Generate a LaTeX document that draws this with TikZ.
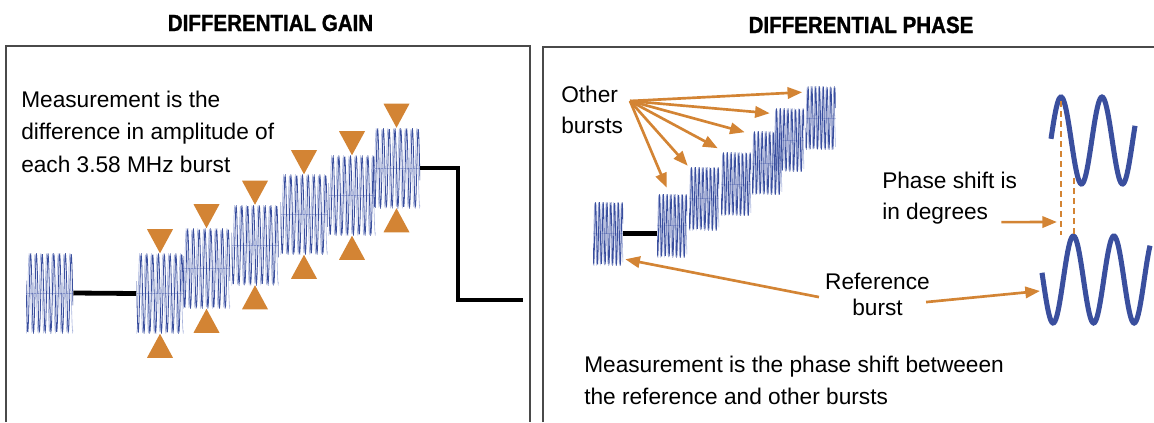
\documentclass[tikz,border=0pt]{standalone}
\usepackage{fontspec}
\setmainfont{Liberation Sans}
\newfontfamily\headfont{Liberation Sans Bold}[FakeStretch=0.88,FakeBold=1.2]
\usetikzlibrary{arrows.meta,calc}

\definecolor{burstblue}{HTML}{3A4F9E}
\definecolor{burstpale}{HTML}{A8B3DC}
\definecolor{markorange}{HTML}{D38434}
\definecolor{framegray}{HTML}{4A4A4A}

% half width, amplitude, period (all in px)
\newcommand{\burstwave}[3]{%
  \begin{scope}[shift={(path picture bounding box.center)}]
    \draw[burstpale,line width=0.45pt] plot[domain=-#1:#1,samples=150] (\x,{#2*sin((\x+0.25*#3)/#3*360)});
    \draw[burstpale,line width=0.4pt] (-#1,0) -- (#1,0);
    \draw[burstblue,line width=0.6pt] plot[domain=-#1:#1,samples=150] (\x,{#2*sin(\x/#3*360)});
  \end{scope}}

\tikzset{
  frame/.style={draw=framegray,line width=1.3pt},
  head/.style={font=\headfont\fontsize{17.5}{20}\selectfont,anchor=base,inner sep=0pt},
  note/.style={align=left,anchor=north west,inner sep=0pt},
  level/.style={line width=3.6pt,line cap=butt},
  ptr/.style={draw=markorange,line width=2pt,-{Triangle[length=11pt,width=8.5pt]}},
  gaintri/.style={fill=markorange},
  phasedash/.style={draw=markorange,line width=1.4pt,dash pattern=on 4.5pt off 3pt},
  sig/.style={draw=burstblue,line width=3.8pt},
  gburst/.style={minimum width=35.25pt,minimum height=60pt,inner sep=0pt,
    path picture={\burstwave{23.5}{39}{5.8}}},
  pburst/.style={minimum width=22.5pt,minimum height=47.25pt,inner sep=0pt,
    path picture={\burstwave{15}{30.5}{3.8}}}
}

\begin{document}
\begin{tikzpicture}[x=0.75pt,y=-0.75pt]
  \useasboundingbox (0,0) rectangle (1154,422);

  % panels
  \draw[frame] (6,422) -- (6,46) -- (530,46) -- (530,422);
  \draw[frame] (543,422) -- (543,47) -- (1154,47);
  \node[head] (gtitle) at (270.5,31) {DIFFERENTIAL GAIN};
  \node[head] (ptitle) at (861,33) {DIFFERENTIAL PHASE};

  % differential gain
  \begin{scope}[every node/.style={gburst}]
    \node (g0) at (49.5,293) {};
    \node (g1) at (160,293.5) {};
    \node (g2) at (206.5,268.5) {};
    \node (g3) at (255,245) {};
    \node (g4) at (304,214.5) {};
    \node (g5) at (352,195.5) {};
    \node (g6) at (396.5,168) {};
  \end{scope}

  \coordinate (stp) at (458,300);
  \coordinate (stq) at (523,300);
  \draw[level] (g0.east) -- (g1.west);
  \draw[level] (g6.east) -| (stp) -- (stq);

  \foreach \g in {g1,g2,g3,g4,g5,g6} {
    \fill[gaintri] (\g.north) -- ++(-13,-24) -- ++(26,0) -- cycle;
    \fill[gaintri] (\g.south) -- ++(-13,24) -- ++(26,0) -- cycle;
  }

  \begin{scope}[every node/.style={note,font=\fontsize{17}{24.4}\selectfont}]
    \node (gnote) at (21,90.5) {Measurement is the\\difference in amplitude of\\each 3.58 MHz burst};
    \node (pnote) at (584,355.5) {Measurement is the phase shift betweeen\\the reference and other bursts};
  \end{scope}

  % differential phase
  \begin{scope}[every node/.style={pburst}]
    \node (p0) at (608,233.5) {};
    \node (p1) at (672,225.5) {};
    \node (p2) at (704,198.5) {};
    \node (p3) at (736,184) {};
    \node (p4) at (767,163) {};
    \node (p5) at (789,140) {};
    \node (p6) at (820.5,118) {};
  \end{scope}
  \draw[level] (p0.east) -- (p0.east -| p1.west);

  \begin{scope}[every node/.style={note,font=\fontsize{17}{23.25}\selectfont}]
    \node (oth) at (561,85.5) {Other\\bursts};
    \node (phs) at (882,171.5) {Phase shift is\\in degrees};
    \node[align=center,anchor=north,font=\fontsize{17}{19.5}\selectfont] (refl) at (877.5,272.5) {Reference\\burst};
  \end{scope}

  \coordinate (fan) at (630,101);
  \foreach \p/\dx/\dy in {p1/10/-6,p2/-1/-1,p3/-3/-4,p4/-7/1,p5/-4/5,p6/-3/6}
    \draw[ptr] (fan) -- ($(\p.north west)+(\dx,\dy)$);

  % sine pair
  \draw[sig] plot[domain=1051:1135,samples=90] (\x,{140.5-43.5*sin((\x-1050.75)/41*360)});
  \draw[sig] plot[domain=1042:1150,samples=110] (\x,{279.5+43.5*sin((\x-1043)/40.5*360)});

  \coordinate (pk1) at (1061,101);
  \coordinate (pk1b) at (1061,235);
  \coordinate (pk2) at (1074,178);
  \coordinate (pk2b) at (1074,234);
  \draw[phasedash] (pk1) -- (pk1b);
  \draw[phasedash] (pk2) -- (pk2b);
  \coordinate (lowin) at (1040,291);

  \draw[ptr] ($(phs.south east)+(-16,-2)$) -- ($(pk1b)+(-4,-13)$);
  \draw[ptr] ($(refl.west)+(-6,3)$) -- ($(p0.south east)+(2,-6)$);
  \draw[ptr] ($(refl.east)+(-4,8)$) -- (lowin);

\end{tikzpicture}
\end{document}
